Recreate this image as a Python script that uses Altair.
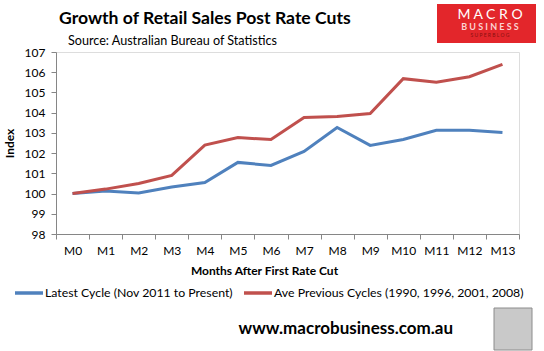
import json
import altair as alt
import pandas as pd

months = ["M0", "M1", "M2", "M3", "M4", "M5", "M6", "M7", "M8", "M9", "M10", "M11", "M12", "M13"]
latest = [100.0, 100.13, 100.03, 100.32, 100.55, 101.54, 101.39, 102.08, 103.27, 102.38, 102.67, 103.13, 103.13, 103.02]
previous = [100.0, 100.22, 100.5, 100.9, 102.4, 102.77, 102.67, 103.76, 103.81, 103.96, 105.68, 105.5, 105.78, 106.39]
series_names = ["Latest Cycle (Nov 2011 to Present)", "Ave Previous Cycles (1990, 1996, 2001, 2008)"]
series_colors = ["#4F81BD", "#C0504D"]
y_ticks = list(range(98, 108))

rows = []
for i, m in enumerate(months):
    rows.append({"idx": i, "month": m, "series": series_names[0], "value": latest[i]})
    rows.append({"idx": i, "month": m, "series": series_names[1], "value": previous[i]})
df = pd.DataFrame(rows)

FONT = "Lato"
W, H = 463, 182
band = W / len(months)

label_expr = f"{json.dumps(months)}[round(datum.value + 0.5)] || ''"

x_enc = alt.X(
    "idx:Q",
    scale=alt.Scale(domain=[-0.5, len(months) - 0.5], nice=False, zero=False),
    axis=alt.Axis(
        values=[i - 0.5 for i in range(len(months) + 1)],
        labelExpr=label_expr,
        labelOffset=band / 2,
        labelOverlap=False,
        labelFlush=False,
        labelAlign="center",
        labelFontSize=12,
        labelColor="#000000",
        labelPadding=6,
        tickSize=5,
        tickColor="#868686",
        domainColor="#868686",
        grid=False,
        title="Months After First Rate Cut",
        titleFontSize=12,
        titleFontWeight="bold",
        titleColor="#000000",
        titleX=208,
        titleY=36,
        titleBaseline="middle",
        titleAnchor="middle",
    ),
)

y_enc = alt.Y(
    "value:Q",
    scale=alt.Scale(domain=[98, 107], nice=False, zero=False),
    axis=alt.Axis(
        values=y_ticks,
        labelFontSize=12,
        labelColor="#000000",
        labelPadding=6,
        labelFlush=False,
        tickSize=5,
        tickColor="#868686",
        domainColor="#868686",
        grid=False,
        title="Index",
        titleFontSize=12,
        titleFontWeight="bold",
        titleColor="#000000",
        titlePadding=8,
    ),
)

lines = alt.Chart(df).mark_line(strokeWidth=3).encode(
    x=x_enc,
    y=y_enc,
    color=alt.Color(
        "series:N",
        scale=alt.Scale(domain=series_names, range=series_colors),
        legend=alt.Legend(
            orient="none",
            legendX=-43,
            legendY=225,
            direction="horizontal",
            title=None,
            symbolType="stroke",
            symbolSize=784,
            symbolStrokeWidth=3.5,
            labelFontSize=12.3,
            labelColor="#000000",
            labelLimit=400,
            labelOffset=0,
            columnPadding=4,
            padding=0,
        ),
    ),
)

one = pd.DataFrame({"a": [0]})

def deco_text(text, x, y, size, weight="normal", color="#000000", align="left"):
    return alt.Chart(one).mark_text(
        text=text, font=FONT, fontSize=size, fontWeight=weight, color=color,
        align=align, baseline="middle",
    ).encode(x=alt.value(x), y=alt.value(y))

title = deco_text("Growth of Retail Sales Post Rate Cuts", 3, -33, 17.6, "bold")
subtitle = deco_text("Source: Australian Bureau of Statistics", 12, -11, 12.6)

logo_box = alt.Chart(one).mark_rect(color="#E3262B").encode(
    x=alt.value(381), x2=alt.value(480), y=alt.value(-48), y2=alt.value(-9)
)
logo1 = deco_text("M A C R O", 434, -37, 14, "normal", "#FFFFFF", "center")
logo2 = deco_text("B U S I N E S S", 434, -25, 9, "bold", "#FBD3D3", "center")
logo3 = deco_text("S U P E R B L O G", 434, -17, 5, "normal", "#8A1010", "center")

footer = deco_text("www.macrobusiness.com.au", 397, 277, 17, "bold", "#000000", "right")
fox = alt.Chart(one).mark_rect(color="#C9C9C9", stroke="#8C8C8C", strokeWidth=1).encode(
    x=alt.value(438), x2=alt.value(476), y=alt.value(256), y2=alt.value(298)
)

chart = alt.layer(
    lines, title, subtitle, logo_box, logo1, logo2, logo3, footer, fox
).properties(
    width=W,
    height=H,
    autosize=alt.AutoSizeParams(type="none"),
    padding={"left": 56, "top": 52, "right": 25, "bottom": 117},
    background="#FFFFFF",
).configure_view(
    fill="#F2F2F2", stroke=None
).configure(
    font=FONT
)

chart.save("out.html", embed_options={"renderer": "svg", "actions": False})
